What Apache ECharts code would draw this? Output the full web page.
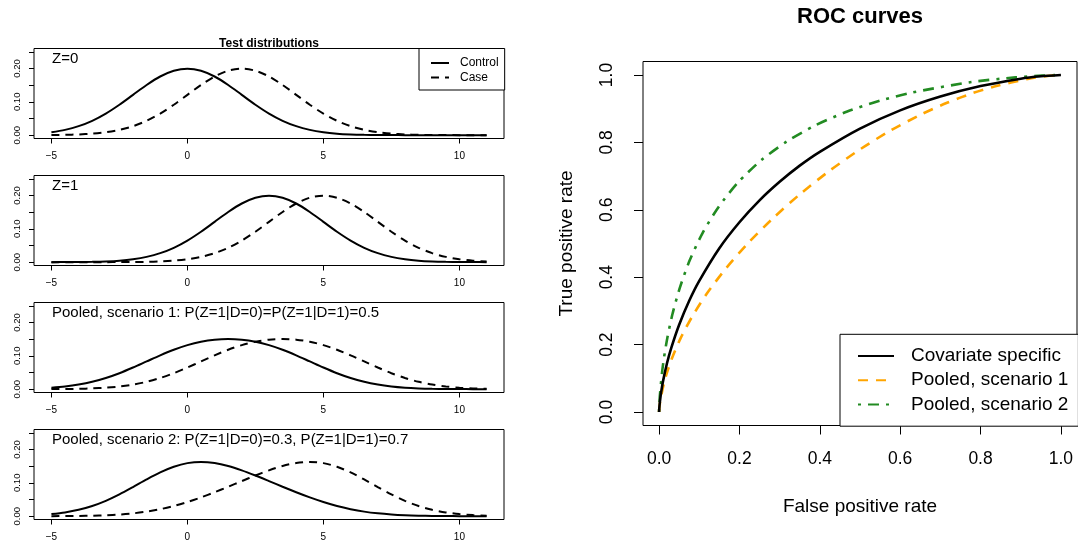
<!DOCTYPE html>
<html>
<head>
<meta charset="utf-8">
<script src="https://cdn.jsdelivr.net/npm/echarts@6/dist/echarts.min.js"></script>
<style>
html,body{margin:0;padding:0;background:#fff;}
#chart{width:1078px;height:544px;}
</style>
</head>
<body>
<div id="chart"></div>
<script>
// ---------- data: test distributions (densities) ----------
const xVals = [-5,-4.5,-4,-3.5,-3,-2.5,-2,-1.5,-1,-0.5,0,0.5,1,1.5,2,2.5,3,3.5,4,4.5,5,5.5,6,6.5,7,7.5,8,8.5,9,9.5,10,10.5,11];
const z0Control = [0.0088,0.0159,0.0270,0.0431,0.0648,0.0913,0.1210,0.1506,0.1760,0.1933,0.1995,0.1933,0.1760,0.1506,0.1210,0.0913,0.0648,0.0431,0.0270,0.0159,0.0088,0.0045,0.0022,0.0010,0.0004,0.0002,0.0001,0,0,0,0,0,0];
const z0Case = [0.0004,0.0010,0.0022,0.0045,0.0088,0.0159,0.0270,0.0431,0.0648,0.0913,0.1210,0.1506,0.1760,0.1933,0.1995,0.1933,0.1760,0.1506,0.1210,0.0913,0.0648,0.0431,0.0270,0.0159,0.0088,0.0045,0.0022,0.0010,0.0004,0.0002,0.0001,0,0];
const z1Control = [0.0001,0.0002,0.0004,0.0010,0.0022,0.0045,0.0088,0.0159,0.0270,0.0431,0.0648,0.0913,0.1210,0.1506,0.1760,0.1933,0.1995,0.1933,0.1760,0.1506,0.1210,0.0913,0.0648,0.0431,0.0270,0.0159,0.0088,0.0045,0.0022,0.0010,0.0004,0.0002,0.0001];
const z1Case = [0,0,0,0,0.0001,0.0002,0.0004,0.0010,0.0022,0.0045,0.0088,0.0159,0.0270,0.0431,0.0648,0.0913,0.1210,0.1506,0.1760,0.1933,0.1995,0.1933,0.1760,0.1506,0.1210,0.0913,0.0648,0.0431,0.0270,0.0159,0.0088,0.0045,0.0022];
const pool1Control = [0.0044,0.0080,0.0137,0.0220,0.0335,0.0479,0.0649,0.0832,0.1015,0.1182,0.1321,0.1423,0.1485,0.1506,0.1485,0.1423,0.1321,0.1182,0.1015,0.0832,0.0649,0.0479,0.0335,0.0220,0.0137,0.0080,0.0044,0.0023,0.0011,0.0005,0.0002,0.0001,0];
const pool1Case = [0.0002,0.0005,0.0011,0.0023,0.0044,0.0080,0.0137,0.0220,0.0335,0.0479,0.0649,0.0832,0.1015,0.1182,0.1321,0.1423,0.1485,0.1506,0.1485,0.1423,0.1321,0.1182,0.1015,0.0832,0.0649,0.0479,0.0335,0.0220,0.0137,0.0080,0.0044,0.0023,0.0011];
const pool2Control = [0.0062,0.0112,0.0190,0.0305,0.0460,0.0653,0.0873,0.1102,0.1313,0.1482,0.1591,0.1627,0.1595,0.1506,0.1375,0.1219,0.1052,0.0882,0.0717,0.0563,0.0425,0.0305,0.0210,0.0136,0.0084,0.0049,0.0027,0.0014,0.0007,0.0003,0.0001,0.0001,0];
const pool2Case = [0.0001,0.0003,0.0007,0.0014,0.0027,0.0049,0.0084,0.0136,0.0210,0.0305,0.0425,0.0563,0.0717,0.0882,0.1052,0.1219,0.1375,0.1506,0.1595,0.1627,0.1591,0.1482,0.1313,0.1102,0.0873,0.0653,0.0460,0.0305,0.0190,0.0112,0.0062,0.0032,0.0016];
const panelLabels = ['Z=0','Z=1','Pooled, scenario 1: P(Z=1|D=0)=P(Z=1|D=1)=0.5','Pooled, scenario 2: P(Z=1|D=0)=0.3, P(Z=1|D=1)=0.7'];
const distXTicks = [-5,0,5,10];
const distYTicks = [0,0.05,0.10,0.15,0.20,0.25];
const distYLabels = [0,0.10,0.20];
const distLegend = ['Control','Case'];

// ---------- data: ROC curves ----------
const covFpr = [0,0.001,0.003,0.005,0.01,0.02,0.03,0.05,0.075,0.1,0.15,0.2,0.25,0.3,0.35,0.4,0.5,0.6,0.7,0.8,0.9,0.95,1];
const covTpr = [0,0.0183,0.0402,0.0575,0.0924,0.146,0.189,0.259,0.330,0.389,0.486,0.563,0.628,0.683,0.731,0.772,0.841,0.895,0.936,0.967,0.989,0.996,1];
const pool1Fpr = [0,0.0001,0.0007,0.0031,0.0115,0.0203,0.0341,0.0543,0.0825,0.1194,0.1657,0.2207,0.2834,0.3522,0.4251,0.5,0.5749,0.6479,0.7166,0.7793,0.8344,0.9175,0.9659,0.9885,1];
const pool1Tpr = [0,0.0031,0.0115,0.0341,0.0825,0.1194,0.1657,0.2207,0.2834,0.3522,0.4251,0.5,0.5749,0.6479,0.7166,0.7793,0.8344,0.8806,0.9175,0.9457,0.9659,0.9885,0.9969,0.9992,1];
const pool2Fpr = [0,0.00007,0.0004,0.0019,0.0070,0.0124,0.0210,0.0338,0.0520,0.0765,0.1085,0.1485,0.1968,0.2535,0.3185,0.3906,0.4683,0.5493,0.6300,0.7772,0.8871,0.9528,0.9840,1];
const pool2Tpr = [0,0.0044,0.0160,0.0472,0.1130,0.1623,0.2228,0.2929,0.3700,0.4508,0.5317,0.6094,0.6815,0.7465,0.8032,0.8515,0.8915,0.9235,0.9481,0.9790,0.9930,0.9981,0.9996,1];
const rocTicks = [0,0.2,0.4,0.6,0.8,1.0];
const rocNames = ['Covariate specific','Pooled, scenario 1','Pooled, scenario 2'];

// ---------- build option ----------
const FONT = '"Liberation Sans", Arial, Helvetica, sans-serif';
const panelTops = [48.5, 175.5, 302.5, 429.5];
const panelH = 90;
const distData = [[z0Control,z0Case],[z1Control,z1Case],[pool1Control,pool1Case],[pool2Control,pool2Case]];
const pairs = (xs, ys) => xs.map((x,i)=>[x, ys[i]]);
const minusFmt = v => (v < 0 ? '\u2212' + Math.abs(v) : String(v));

const grids = [], xAxes = [], yAxes = [], series = [], graphics = [];
panelTops.forEach((top, i) => {
  grids.push({left:34, top:top, width:470, height:panelH, show:true, borderColor:'#000', borderWidth:1, backgroundColor:'transparent', containLabel:false});
  xAxes.push({type:'value', gridIndex:i, min:-5.64, max:11.64,
    axisLine:{show:false, onZero:false}, splitLine:{show:false},
    axisTick:{show:true, customValues:distXTicks, length:5, lineStyle:{color:'#000'}},
    axisLabel:{show:true, customValues:distXTicks, formatter:minusFmt, fontSize:10, color:'#000', fontFamily:FONT, margin:12.5}});
  yAxes.push({type:'value', gridIndex:i, min:-0.01, max:0.26,
    axisLine:{show:false, onZero:false}, splitLine:{show:false},
    axisTick:{show:true, customValues:distYTicks, length:5, lineStyle:{color:'#000'}},
    axisLabel:{show:true, customValues:distYLabels, rotate:90, formatter:v=>v.toFixed(2), fontSize:9.5, color:'#000', fontFamily:FONT, margin:11.5}});
  series.push({type:'line', name:distLegend[0], xAxisIndex:i, yAxisIndex:i, data:pairs(xVals, distData[i][0]),
    showSymbol:false, symbol:'none', smooth:0.3, lineStyle:{color:'#000', width:2, type:'solid'}, itemStyle:{color:'#000'}, silent:true, animation:false});
  series.push({type:'line', name:distLegend[1], xAxisIndex:i, yAxisIndex:i, data:pairs(xVals, distData[i][1]),
    showSymbol:false, symbol:'none', smooth:0.3, lineStyle:{color:'#000', width:2, type:[8,6]}, itemStyle:{color:'#000'}, silent:true, animation:false});
  graphics.push({type:'text', x:52, y:top+10.5, style:{text:panelLabels[i], fontSize:15, fontFamily:FONT, fill:'#000', align:'left', verticalAlign:'middle'}});
});

// ROC grid
grids.push({left:643, top:61.5, width:434, height:364, show:true, borderColor:'#000', borderWidth:1, backgroundColor:'transparent', containLabel:false});
xAxes.push({type:'value', gridIndex:4, min:-0.04, max:1.04,
  name:'False positive rate', nameLocation:'middle', nameGap:72, nameTextStyle:{fontSize:19, color:'#000', fontFamily:FONT},
  axisLine:{show:false, onZero:false}, splitLine:{show:false},
  axisTick:{show:true, customValues:rocTicks, length:9, lineStyle:{color:'#000'}},
  axisLabel:{show:true, customValues:rocTicks, formatter:v=>v.toFixed(1), fontSize:17.5, color:'#000', fontFamily:FONT, margin:25}});
yAxes.push({type:'value', gridIndex:4, min:-0.04, max:1.04,
  name:'True positive rate', nameLocation:'middle', nameGap:67, nameRotate:90, nameTextStyle:{fontSize:19, color:'#000', fontFamily:FONT},
  axisLine:{show:false, onZero:false}, splitLine:{show:false},
  axisTick:{show:true, customValues:rocTicks, length:9, lineStyle:{color:'#000'}},
  axisLabel:{show:true, customValues:rocTicks, rotate:90, formatter:v=>v.toFixed(1), fontSize:17.5, color:'#000', fontFamily:FONT, margin:27}});
const rocStyles = [
  {color:'#000000', type:'solid'},
  {color:'#FFA500', type:[10,8]},
  {color:'#228B22', type:[3,7,11,7]}
];
const rocData = [pairs(covFpr,covTpr), pairs(pool1Fpr,pool1Tpr), pairs(pool2Fpr,pool2Tpr)];
rocNames.forEach((nm, k) => {
  series.push({type:'line', name:nm, xAxisIndex:4, yAxisIndex:4, data:rocData[k], showSymbol:false, symbol:'none', smooth:0.25,
    lineStyle:{color:rocStyles[k].color, width:2.6, type:rocStyles[k].type, cap:'butt'}, itemStyle:{color:rocStyles[k].color}, silent:true, animation:false, z: 3-k});
});

graphics.push({type:'text', x:269, y:43.5, style:{text:'Test distributions', fontSize:12, fontWeight:'bold', fontFamily:FONT, fill:'#000', align:'center', verticalAlign:'middle'}});
graphics.push({type:'text', x:860, y:17, style:{text:'ROC curves', fontSize:22, fontWeight:'bold', fontFamily:FONT, fill:'#000', align:'center', verticalAlign:'middle'}});

const hiddenSymbol = {color:'transparent', borderWidth:0, opacity:0};
const option = {
  animation:false,
  backgroundColor:'#fff',
  grid:grids, xAxis:xAxes, yAxis:yAxes, series:series, graphic:graphics,
  legend:[
    {data:distLegend, left:419, top:48.5, orient:'vertical', itemWidth:18, itemHeight:8, itemGap:2.6,
     padding:[8.5,6,6.4,11], borderColor:'#000', borderWidth:1, backgroundColor:'#fff', selectedMode:false,
     itemStyle:hiddenSymbol, textStyle:{fontSize:12, color:'#000', fontFamily:FONT, padding:[0,0,0,6]}},
    {data:rocNames, left:840, top:334.3, orient:'vertical', itemWidth:36, itemHeight:14, itemGap:5.2,
     padding:[12.2,10,12.3,17], borderColor:'#000', borderWidth:1, backgroundColor:'#fff', selectedMode:false,
     itemStyle:hiddenSymbol, textStyle:{fontSize:19, color:'#000', fontFamily:FONT, padding:[0,0,0,12]}}
  ]
};
const chart = echarts.init(document.getElementById('chart'), null, {renderer:'canvas'});
chart.setOption(option);
</script>
</body>
</html>
